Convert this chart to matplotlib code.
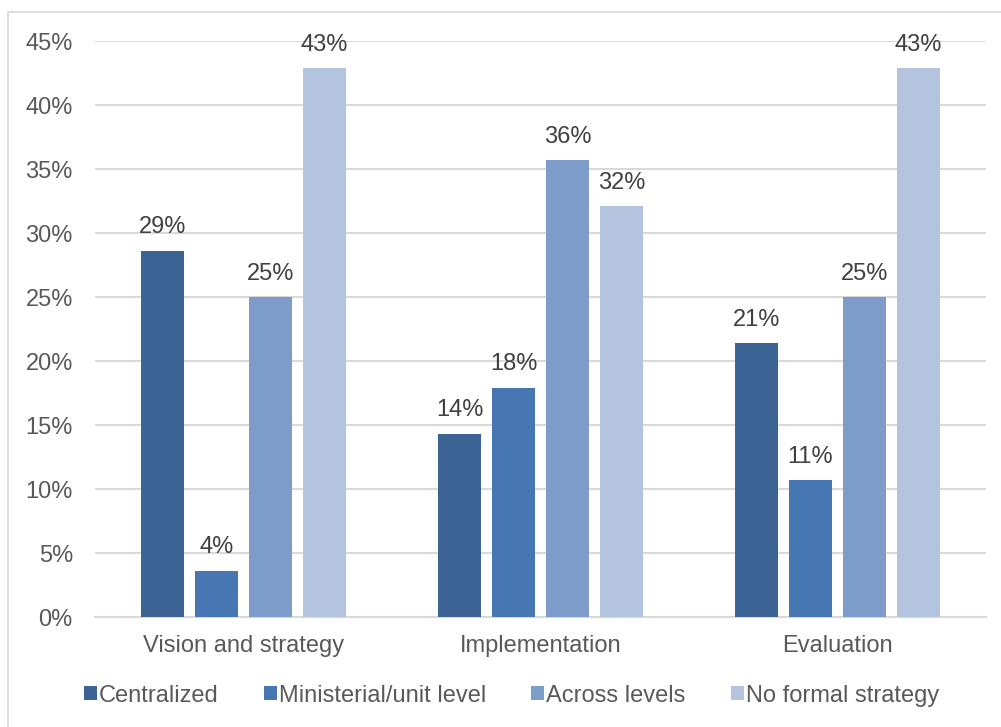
import numpy as np
import matplotlib.pyplot as plt
from matplotlib.patches import Rectangle

plt.rcParams['font.family'] = ['Liberation Sans', 'DejaVu Sans']

#--data---
categories = ['Vision and strategy', 'Implementation', 'Evaluation']
series     = ['Centralized', 'Ministerial/unit level', 'Across levels', 'No formal strategy']
centralized = [28.6, 14.3, 21.4]
ministerial = [3.6, 17.9, 10.7]
across      = [25.0, 35.7, 25.0]
no_formal   = [42.9, 32.1, 42.9]

colors = ['#3B6494', '#4677B3', '#7D9CCA', '#B4C4DF']

fig = plt.figure(figsize=(10.01, 7.27), dpi=100)
ax = fig.add_axes([0.095, 0.151, 0.890, 0.792])

# outer chart border
fig.patches.append(Rectangle((0.008, -0.05), 1.1, 1.033, transform=fig.transFigure,
                             fill=False, edgecolor='#D9D9D9', linewidth=1.2))

x = np.arange(len(categories))
width = 0.145
pitch = 0.182
all_vals = [centralized, ministerial, across, no_formal]

for i, (vals, name, c) in enumerate(zip(all_vals, series, colors)):
    pos = x + (i - 1.5) * pitch
    bars = ax.bar(pos, vals, width, color=c, label=name, zorder=3)
    for b, v in zip(bars, vals):
        ax.text(b.get_x() + b.get_width() / 2, v + 1.0, f'{v:.0f}%',
                ha='center', va='bottom', fontsize=17, color='#404040')

ax.set_xlim(-0.5, 2.5)
ax.set_ylim(0, 45)
ax.set_yticks(np.arange(0, 46, 5))
ax.set_yticklabels([f'{t}%' for t in range(0, 46, 5)])
ax.set_xticks(x)
ax.set_xticklabels(categories)
ax.tick_params(axis='both', length=0, labelsize=17, labelcolor='#595959')
ax.tick_params(axis='y', pad=16)
ax.tick_params(axis='x', pad=13)
ax.grid(axis='y', color='#D9D9D9', linewidth=1.5, zorder=0)
for s in ['top', 'right', 'left']:
    ax.spines[s].set_visible(False)
ax.spines['bottom'].set_color('#D9D9D9')
ax.spines['bottom'].set_linewidth(1.5)

leg = fig.legend(loc='center', bbox_to_anchor=(0.511, 0.043), ncol=4, frameon=False,
                 fontsize=17, handlelength=0.55, handleheight=0.55, handletextpad=0.1,
                 columnspacing=1.9, labelcolor='#595959')

fig.savefig('out.png', dpi=100)
